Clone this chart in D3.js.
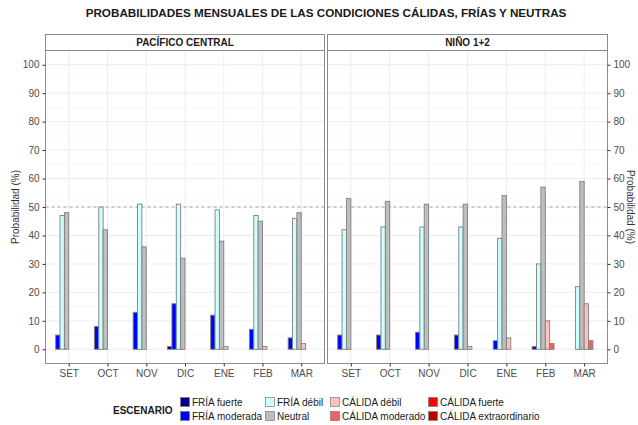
<!DOCTYPE html>
<html><head><meta charset="utf-8">
<script src="https://cdn.jsdelivr.net/npm/d3@7"></script>
<style>body{margin:0;background:#fff}svg{display:block;font-family:"Liberation Sans",Arial,sans-serif}</style>
</head><body>
<svg id="c" width="638" height="425"></svg>
<script>
const months = ["SET","OCT","NOV","DIC","ENE","FEB","MAR"];
const panels = ["PACÍFICO CENTRAL","NIÑO 1+2"];
const scenarios = ["FRÍA fuerte","FRÍA moderada","FRÍA débil","Neutral","CÁLIDA débil","CÁLIDA moderado","CÁLIDA fuerte","CÁLIDA extraordinario"];
const colors = ["#00008b","#0000ff","#ccffff","#bebebe","#ffc0c0","#f06060","#ff0000","#c00000"];
// values per scenario, by month (SET..MAR)
const pacFriaFuerte   = [0,0,0,1,0,0,0];
const pacFriaModerada = [5,8,13,16,12,7,4];
const pacFriaDebil    = [47,50,51,51,49,47,46];
const pacNeutral      = [48,42,36,32,38,45,48];
const pacCalDebil     = [0,0,0,0,1,1,2];
const pacCalModerado  = [0,0,0,0,0,0,0];
const pacCalFuerte    = [0,0,0,0,0,0,0];
const pacCalExtra     = [0,0,0,0,0,0,0];
const ninFriaFuerte   = [0,0,0,0,0,0,0];
const ninFriaModerada = [5,5,6,5,3,1,0];
const ninFriaDebil    = [42,43,43,43,39,30,22];
const ninNeutral      = [53,52,51,51,54,57,59];
const ninCalDebil     = [0,0,0,1,4,10,16];
const ninCalModerado  = [0,0,0,0,0,2,3];
const ninCalFuerte    = [0,0,0,0,0,0,0];
const ninCalExtra     = [0,0,0,0,0,0,0];
const yTicks = [0,10,20,30,40,50,60,70,80,90,100];

const panelData = [
  [pacFriaFuerte,pacFriaModerada,pacFriaDebil,pacNeutral,pacCalDebil,pacCalModerado,pacCalFuerte,pacCalExtra],
  [ninFriaFuerte,ninFriaModerada,ninFriaDebil,ninNeutral,ninCalDebil,ninCalModerado,ninCalFuerte,ninCalExtra]
];

const svg = d3.select("#c");
const pTop = 50.5, pBot = 363.5, stripTop = 34.5;
const panelX = [[45.5,324.5],[327.5,607.5]];
const y = d3.scaleLinear().domain([-5,105]).range([pBot,pTop]);
const tickCol = "#4d4d4d";

svg.append("text").attr("x",326).attr("y",17).attr("text-anchor","middle")
  .attr("font-weight","bold").attr("font-size","11.7px").attr("fill","#1a1a1a")
  .text("PROBABILIDADES MENSUALES DE LAS CONDICIONES CÁLIDAS, FRÍAS Y NEUTRAS");

panelData.forEach((series,pi)=>{
  const [x0,x1] = panelX[pi];
  const w = x1-x0;
  const step = w/(months.length-1+1.2);
  const x = d3.scalePoint().domain(months).range([x0+0.6*step, x1-0.6*step]);
  const groupW = 0.9*step;
  const xs = d3.scaleBand().domain(scenarios).range([-groupW/2, groupW/2]).padding(0);
  const g = svg.append("g");
  // minor grid
  d3.range(-5,106,10).forEach(v=>{ g.append("line").attr("x1",x0).attr("x2",x1).attr("y1",y(v)).attr("y2",y(v)).attr("stroke","#f4f4f4").attr("stroke-width",0.6); });
  yTicks.forEach(v=>g.append("line").attr("x1",x0).attr("x2",x1).attr("y1",y(v)).attr("y2",y(v)).attr("stroke","#ebebeb").attr("stroke-width",0.9));
  months.forEach(m=>g.append("line").attr("x1",x(m)).attr("x2",x(m)).attr("y1",pTop).attr("y2",pBot).attr("stroke","#ebebeb").attr("stroke-width",0.9));
  // dashed 50
  g.append("line").attr("x1",x0).attr("x2",x1).attr("y1",y(50)).attr("y2",y(50))
    .attr("stroke","#a6a6a6").attr("stroke-dasharray","3,3").attr("stroke-width",1.1);
  // bars
  series.forEach((vals,si)=>{
    g.selectAll(null).data(months).enter().append("rect")
      .attr("x",(m)=>x(m)+xs(scenarios[si]))
      .attr("width",xs.bandwidth())
      .attr("y",(m,i)=>y(vals[i]))
      .attr("height",(m,i)=>y(0)-y(vals[i]))
      .attr("fill",colors[si]).attr("stroke","#7f7f7f").attr("stroke-width",0.9);
  });
  // border
  g.append("rect").attr("x",x0).attr("y",pTop).attr("width",w).attr("height",pBot-pTop)
    .attr("fill","none").attr("stroke","#8c8c8c").attr("stroke-width",1);
  // strip
  g.append("rect").attr("x",x0).attr("y",stripTop).attr("width",w).attr("height",pTop-stripTop)
    .attr("fill","#fff").attr("stroke","#8c8c8c").attr("stroke-width",1);
  g.append("text").attr("x",(x0+x1)/2).attr("y",pTop-4.5).attr("text-anchor","middle")
    .attr("font-weight","bold").attr("font-size","10px").attr("fill","#1a1a1a").text(panels[pi]);
  // x axis
  const xa = svg.append("g").attr("transform",`translate(0,${pBot})`)
    .call(d3.axisBottom(x).tickSize(3).tickPadding(3));
  xa.select(".domain").remove();
  xa.selectAll("line").attr("stroke","#333");
  xa.selectAll("text").attr("font-size","10px").attr("fill",tickCol).attr("font-family","Liberation Sans, Arial, sans-serif");
  if(pi===0){
    const ya = svg.append("g").attr("transform",`translate(${x0},0)`)
      .call(d3.axisLeft(y).tickValues(yTicks).tickSize(3).tickPadding(3));
    ya.select(".domain").remove();
    ya.selectAll("line").attr("stroke","#333");
    ya.selectAll("text").attr("font-size","10px").attr("fill",tickCol).attr("font-family","Liberation Sans, Arial, sans-serif");
  } else {
    const ya = svg.append("g").attr("transform",`translate(${x1},0)`)
      .call(d3.axisRight(y).tickValues(yTicks).tickSize(3).tickPadding(3));
    ya.select(".domain").remove();
    ya.selectAll("line").attr("stroke","#333");
    ya.selectAll("text").attr("font-size","10px").attr("fill",tickCol).attr("font-family","Liberation Sans, Arial, sans-serif");
  }
});

svg.append("text").attr("transform",`translate(19,${(pTop+pBot)/2}) rotate(-90)`)
  .attr("text-anchor","middle").attr("font-size","10px").attr("fill","#333").text("Probabilidad (%)");
svg.append("text").attr("transform",`translate(627,${(pTop+pBot)/2}) rotate(90)`)
  .attr("text-anchor","middle").attr("font-size","10px").attr("fill","#333").text("Probabilidad (%)");

// legend
const lg = svg.append("g");
lg.append("text").attr("x",113).attr("y",414).attr("font-weight","bold").attr("font-size","10px").attr("fill","#1a1a1a").text("ESCENARIO");
const colX = [180,265,330,428];
scenarios.forEach((s,i)=>{
  const c = Math.floor(i/2), r = i%2;
  const kx = colX[c], ky = 397 + r*14;
  lg.append("rect").attr("x",kx+0.5).attr("y",ky+0.5).attr("width",9).attr("height",9)
    .attr("fill",colors[i]).attr("stroke","#7a7a7a").attr("stroke-width",0.7);
  lg.append("text").attr("x",kx+12).attr("y",ky+8.5).attr("font-size","10px").attr("fill","#1a1a1a").text(s);
});
</script>
</body></html>
